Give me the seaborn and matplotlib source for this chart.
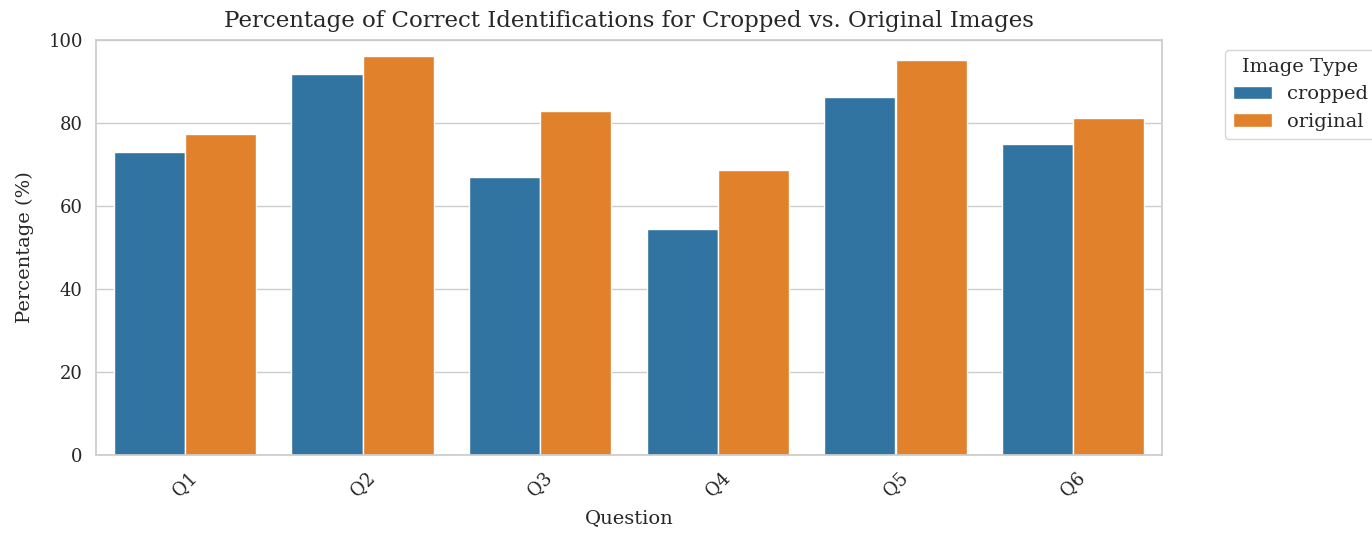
import matplotlib
matplotlib.use('Agg')
import matplotlib.pyplot as plt
import seaborn as sns
import pandas as pd

questions = ['Q1', 'Q2', 'Q3', 'Q4', 'Q5', 'Q6']
cropped = [72.9, 91.7, 67.0, 54.4, 86.2, 75.0]
original = [77.3, 96.1, 82.9, 68.6, 95.3, 81.1]
image_types = ['cropped', 'original']

df = pd.DataFrame({
    'Question': questions * 2,
    'Percentage': cropped + original,
    'Image Type': ['cropped'] * len(questions) + ['original'] * len(questions),
})

sns.set_theme(style="whitegrid", font='DejaVu Serif')
plt.rcParams['font.family'] = ['DejaVu Serif']

fig = plt.figure(figsize=(13.72, 5.34), dpi=100)
ax = fig.add_axes([96 / 1372, 1 - 455 / 534, (1162 - 96) / 1372, (455 - 40) / 534])

sns.barplot(data=df, x='Question', y='Percentage', hue='Image Type',
            hue_order=image_types, palette=['#1f77b4', '#ff7f0e'], ax=ax)

ax.set_ylim(0, 100)
ax.set_title('Percentage of Correct Identifications for Cropped vs. Original Images',
             fontsize=16.5, pad=9)
ax.set_xlabel('Question', fontsize=14, labelpad=7)
ax.set_ylabel('Percentage (%)', fontsize=14, labelpad=10)
ax.tick_params(axis='both', labelsize=13)
plt.setp(ax.get_xticklabels(), rotation=45)
ax.legend(title='Image Type', bbox_to_anchor=(1.05, 1), loc='upper left',
          fontsize=14, title_fontsize=14)

fig.savefig('out.png', dpi=100)
